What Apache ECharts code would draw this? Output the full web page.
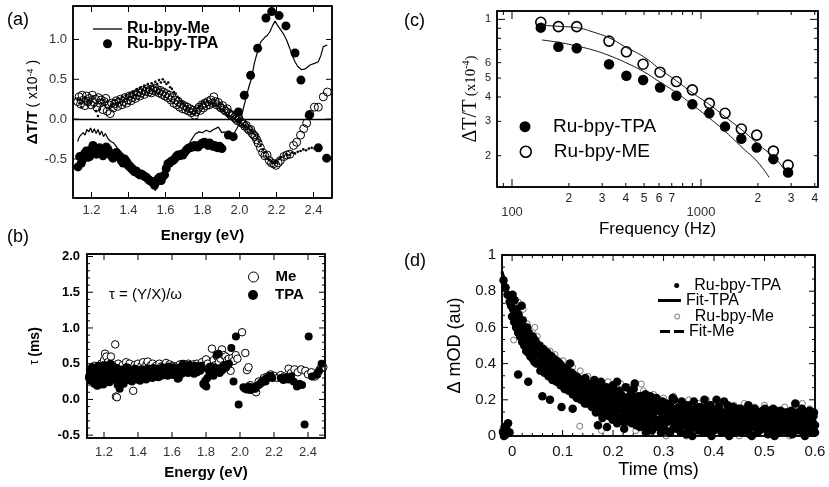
<!DOCTYPE html>
<html><head><meta charset="utf-8">
<script src="https://cdn.jsdelivr.net/npm/echarts@6/dist/echarts.min.js"></script>
<style>html,body{margin:0;padding:0;background:#fff}#c{width:829px;height:487px}</style>
</head><body><div id="c"></div>
<script>
// ---------- Panel (a): ΔT/T spectra ----------
const aXTicks = [1.2, 1.4, 1.6, 1.8, 2.0, 2.2, 2.4];
const aYTicks = [-0.5, 0, 0.5, 1.0];
const aMeLine = [[1.125,-0.28],[1.135,-0.22],[1.145,-0.24],[1.155,-0.17],[1.165,-0.2],[1.175,-0.13],[1.185,-0.16],[1.195,-0.11],[1.205,-0.17],[1.215,-0.12],[1.225,-0.18],[1.235,-0.13],[1.245,-0.2],[1.255,-0.15],[1.265,-0.22],[1.275,-0.18],[1.29,-0.25],[1.305,-0.28],[1.32,-0.3],[1.34,-0.36],[1.36,-0.41],[1.38,-0.46],[1.40,-0.5],[1.42,-0.55],[1.44,-0.6],[1.46,-0.64],[1.48,-0.68],[1.50,-0.72],[1.52,-0.78],[1.535,-0.83],[1.545,-0.9],[1.555,-0.84],[1.565,-0.86],[1.575,-0.8],[1.585,-0.78],[1.595,-0.7],[1.605,-0.64],[1.62,-0.58],[1.64,-0.53],[1.66,-0.48],[1.68,-0.44],[1.70,-0.4],[1.72,-0.35],[1.74,-0.26],[1.76,-0.19],[1.78,-0.16],[1.80,-0.17],[1.82,-0.14],[1.84,-0.16],[1.86,-0.13],[1.886,-0.1],[1.904,-0.17],[1.92,-0.16],[1.94,-0.2],[1.966,-0.2],[1.985,-0.12],[2.0,-0.05],[2.015,0.08],[2.03,0.22],[2.05,0.4],[2.066,0.52],[2.08,0.7],[2.1,0.87],[2.115,0.97],[2.138,1.03],[2.15,1.05],[2.165,1.1],[2.18,1.18],[2.192,1.23],[2.205,1.18],[2.22,1.13],[2.235,1.08],[2.255,0.99],[2.27,0.9],[2.285,0.8],[2.3,0.72],[2.315,0.66],[2.336,0.62],[2.355,0.63],[2.381,0.68],[2.405,0.7],[2.426,0.72],[2.44,0.8],[2.453,0.91],[2.475,0.93]];
const aTpa = [[1.127,-0.6],[1.136,-0.47],[1.145,-0.55],[1.154,-0.5],[1.163,-0.43],[1.172,-0.4],[1.181,-0.48],[1.19,-0.47],[1.199,-0.38],[1.208,-0.33],[1.217,-0.42],[1.226,-0.44],[1.235,-0.38],[1.244,-0.36],[1.253,-0.42],[1.262,-0.46],[1.271,-0.4],[1.28,-0.35],[1.289,-0.38],[1.298,-0.42],[1.307,-0.46],[1.316,-0.49],[1.325,-0.44],[1.334,-0.42],[1.343,-0.46],[1.352,-0.48],[1.361,-0.52],[1.37,-0.55],[1.379,-0.5],[1.388,-0.53],[1.397,-0.58],[1.406,-0.6],[1.415,-0.62],[1.424,-0.64],[1.433,-0.66],[1.442,-0.65],[1.451,-0.68],[1.46,-0.7],[1.469,-0.69],[1.478,-0.7],[1.487,-0.72],[1.496,-0.73],[1.505,-0.75],[1.514,-0.77],[1.523,-0.78],[1.532,-0.8],[1.541,-0.83],[1.55,-0.78],[1.559,-0.75],[1.568,-0.73],[1.577,-0.77],[1.586,-0.72],[1.595,-0.7],[1.604,-0.62],[1.613,-0.56],[1.622,-0.55],[1.631,-0.53],[1.64,-0.52],[1.649,-0.5],[1.658,-0.47],[1.667,-0.45],[1.676,-0.46],[1.685,-0.44],[1.694,-0.45],[1.703,-0.42],[1.712,-0.39],[1.721,-0.37],[1.73,-0.36],[1.739,-0.35],[1.748,-0.35],[1.757,-0.33],[1.766,-0.34],[1.775,-0.35],[1.784,-0.33],[1.793,-0.31],[1.802,-0.3],[1.811,-0.29],[1.82,-0.31],[1.829,-0.33],[1.838,-0.3],[1.847,-0.32],[1.856,-0.34],[1.865,-0.33],[1.874,-0.35],[1.883,-0.36],[1.892,-0.34],[1.905,-0.37],[1.94,-0.2],[1.966,-0.22],[1.994,0.09],[2.026,0.3],[2.06,0.55],[2.098,0.89],[2.143,1.27],[2.174,1.35],[2.214,1.3],[2.251,1.17],[2.3,0.83],[2.332,0.49],[2.377,0.05],[2.426,-0.36],[2.471,-0.49]];
const aMeOpen = [[1.125,0.22],[1.133,0.28],[1.141,0.19],[1.149,0.3],[1.157,0.24],[1.165,0.17],[1.173,0.29],[1.181,0.22],[1.189,0.26],[1.197,0.18],[1.205,0.3],[1.213,0.21],[1.221,0.25],[1.229,0.15],[1.237,0.27],[1.245,0.2],[1.253,0.24],[1.261,0.12],[1.269,0.22],[1.277,0.26],[1.285,0.1],[1.293,0.18],[1.301,0.07],[1.309,0.2],[1.317,0.14],[1.325,0.19],[1.333,0.23],[1.341,0.16],[1.349,0.21],[1.357,0.25],[1.365,0.18],[1.373,0.22],[1.381,0.27],[1.389,0.2],[1.397,0.24],[1.405,0.29],[1.413,0.23],[1.421,0.27],[1.429,0.31],[1.437,0.26],[1.445,0.3],[1.453,0.34],[1.461,0.29],[1.469,0.33],[1.477,0.36],[1.485,0.31],[1.493,0.35],[1.501,0.38],[1.509,0.34],[1.517,0.37],[1.525,0.33],[1.533,0.36],[1.541,0.39],[1.549,0.35],[1.557,0.37],[1.565,0.33],[1.573,0.36],[1.581,0.31],[1.589,0.34],[1.597,0.29],[1.605,0.32],[1.613,0.27],[1.621,0.3],[1.629,0.24],[1.637,0.27],[1.645,0.2],[1.653,0.24],[1.661,0.18],[1.669,0.22],[1.677,0.15],[1.685,0.19],[1.693,0.13],[1.701,0.17],[1.709,0.12],[1.717,0.15],[1.725,0.1],[1.733,0.13],[1.741,0.08],[1.749,0.11],[1.757,0.05],[1.765,0.09],[1.773,0.12],[1.781,0.15],[1.789,0.11],[1.797,0.18],[1.805,0.14],[1.813,0.2],[1.821,0.17],[1.829,0.22],[1.837,0.18],[1.845,0.24],[1.853,0.2],[1.861,0.28],[1.869,0.22],[1.877,0.18],[1.885,0.21],[1.893,0.16],[1.901,0.14],[1.909,0.17],[1.917,0.12],[1.925,0.1],[1.933,0.13],[1.941,0.08],[1.949,0.06],[1.957,0.04],[1.965,0.05],[1.973,0.02],[1.981,0.0],[1.989,-0.02],[1.997,0.01],[2.005,-0.03],[2.013,-0.05],[2.021,-0.06],[2.029,-0.09],[2.037,-0.08],[2.045,-0.12],[2.053,-0.14],[2.061,-0.13],[2.069,-0.18],[2.077,-0.2],[2.085,-0.22],[2.093,-0.26],[2.101,-0.3],[2.113,-0.36],[2.125,-0.42],[2.137,-0.46],[2.149,-0.45],[2.161,-0.52],[2.173,-0.55],[2.185,-0.56],[2.197,-0.58],[2.209,-0.55],[2.221,-0.52],[2.24,-0.47],[2.256,-0.45],[2.272,-0.44],[2.292,-0.33],[2.309,-0.29],[2.33,-0.2],[2.347,-0.12],[2.363,-0.05],[2.38,0.06],[2.405,0.15],[2.426,0.15],[2.453,0.28],[2.475,0.34]];
const aTpaDots = [[1.125,0.25],[1.135,0.2],[1.145,0.15],[1.155,0.22],[1.165,0.27],[1.175,0.18],[1.185,0.24],[1.195,0.2],[1.205,0.28],[1.215,0.16],[1.225,0.1],[1.235,0.04],[1.245,0.12],[1.255,0.2],[1.265,0.24],[1.275,0.18],[1.285,0.22],[1.295,0.14],[1.305,0.17],[1.315,0.2],[1.325,0.24],[1.335,0.2],[1.345,0.26],[1.355,0.22],[1.365,0.28],[1.375,0.24],[1.385,0.3],[1.395,0.26],[1.405,0.32],[1.415,0.28],[1.425,0.34],[1.435,0.3],[1.445,0.37],[1.455,0.34],[1.465,0.4],[1.475,0.36],[1.485,0.42],[1.495,0.38],[1.505,0.44],[1.515,0.4],[1.525,0.45],[1.535,0.42],[1.545,0.47],[1.555,0.44],[1.565,0.49],[1.575,0.46],[1.585,0.5],[1.595,0.47],[1.605,0.44],[1.615,0.46],[1.625,0.4],[1.635,0.38],[1.645,0.34],[1.655,0.32],[1.665,0.28],[1.675,0.26],[1.685,0.22],[1.695,0.2],[1.705,0.17],[1.715,0.14],[1.725,0.12],[1.735,0.09],[1.745,0.07],[1.755,0.06],[1.765,0.1],[1.775,0.14],[1.785,0.17],[1.795,0.2],[1.805,0.22],[1.815,0.19],[1.825,0.23],[1.835,0.2],[1.845,0.21],[1.855,0.18],[1.865,0.2],[1.875,0.17],[1.885,0.16],[1.895,0.13],[1.905,0.12],[1.915,0.1],[1.925,0.07],[1.935,0.05],[1.945,0.04],[1.955,0.02],[1.965,0.03],[1.975,0.0],[1.985,-0.02],[1.995,-0.03],[2.005,-0.05],[2.015,-0.07],[2.025,-0.08],[2.035,-0.1],[2.045,-0.11],[2.055,-0.13],[2.065,-0.15],[2.075,-0.18],[2.085,-0.2],[2.095,-0.24],[2.105,-0.28],[2.115,-0.33],[2.125,-0.38],[2.135,-0.42],[2.145,-0.47],[2.155,-0.5],[2.165,-0.52],[2.175,-0.54],[2.185,-0.55],[2.195,-0.55],[2.205,-0.53],[2.215,-0.5],[2.225,-0.48],[2.24,-0.46],[2.255,-0.44],[2.27,-0.45],[2.285,-0.42],[2.3,-0.43],[2.315,-0.41],[2.33,-0.4],[2.345,-0.38],[2.36,-0.39],[2.375,-0.37],[2.39,-0.36],[2.405,-0.37],[2.42,-0.38],[2.435,-0.37]];

// ---------- Panel (b): tau ----------
const bXTicks = [1.2, 1.4, 1.6, 1.8, 2.0, 2.2, 2.4];
const bYTicks = [-0.5, 0, 0.5, 1.0, 1.5, 2.0];
const bYMinor = [-0.4,-0.3,-0.2,-0.1,0.1,0.2,0.3,0.4,0.6,0.7,0.8,0.9,1.1,1.2,1.3,1.4,1.6,1.7,1.8,1.9];
const bMe = [[1.112,0.3],[1.12,0.42],[1.128,0.36],[1.136,0.25],[1.144,0.47],[1.152,0.4],[1.16,0.33],[1.168,0.2],[1.176,0.45],[1.184,0.5],[1.192,0.38],[1.2,0.55],[1.206,0.64],[1.214,0.6],[1.222,0.52],[1.23,0.45],[1.241,0.6],[1.25,0.48],[1.258,0.42],[1.266,0.77],[1.27,0.04],[1.276,0.03],[1.284,0.5],[1.292,0.44],[1.3,0.38],[1.31,0.48],[1.32,0.42],[1.33,0.52],[1.34,0.46],[1.35,0.5],[1.36,0.43],[1.372,0.12],[1.38,0.48],[1.39,0.45],[1.4,0.5],[1.41,0.42],[1.42,0.47],[1.43,0.52],[1.44,0.45],[1.45,0.49],[1.457,0.53],[1.466,0.44],[1.476,0.48],[1.486,0.5],[1.496,0.42],[1.506,0.47],[1.516,0.44],[1.526,0.5],[1.536,0.46],[1.546,0.42],[1.556,0.48],[1.565,0.51],[1.576,0.45],[1.586,0.49],[1.596,0.43],[1.606,0.47],[1.616,0.4],[1.626,0.46],[1.636,0.42],[1.646,0.49],[1.656,0.44],[1.666,0.4],[1.676,0.47],[1.686,0.43],[1.696,0.5],[1.706,0.46],[1.716,0.42],[1.726,0.49],[1.736,0.45],[1.746,0.5],[1.756,0.44],[1.766,0.48],[1.776,0.52],[1.786,0.47],[1.8,0.56],[1.81,0.5],[1.82,0.45],[1.835,0.71],[1.845,0.55],[1.855,0.48],[1.865,0.6],[1.875,0.52],[1.885,0.57],[1.894,0.7],[1.905,0.62],[1.915,0.6],[1.925,0.55],[1.935,0.57],[1.945,0.4],[1.955,0.58],[1.965,0.54],[1.975,0.62],[1.985,0.57],[2.012,0.94],[2.031,0.65],[2.041,0.41],[2.05,0.45],[2.06,0.2],[2.08,0.13],[2.095,0.1],[2.11,0.25],[2.125,0.24],[2.14,0.3],[2.16,0.32],[2.18,0.35],[2.2,0.33],[2.22,0.3],[2.24,0.34],[2.26,0.32],[2.286,0.43],[2.3,0.37],[2.32,0.42],[2.34,0.38],[2.36,0.42],[2.384,0.4],[2.4,0.35],[2.42,0.38],[2.44,0.32],[2.455,0.35],[2.472,0.43],[2.49,0.45]];
const bTpa = [[1.112,0.32],[1.118,0.41],[1.124,0.26],[1.13,0.45],[1.136,0.35],[1.142,0.22],[1.148,0.4],[1.154,0.3],[1.16,0.19],[1.166,0.47],[1.172,0.36],[1.178,0.27],[1.184,0.43],[1.19,0.33],[1.196,0.21],[1.202,0.48],[1.208,0.38],[1.214,0.29],[1.22,0.44],[1.226,0.35],[1.232,0.24],[1.238,0.5],[1.244,0.4],[1.25,0.3],[1.256,0.46],[1.262,0.37],[1.268,0.27],[1.274,0.44],[1.28,0.2],[1.286,0.34],[1.292,0.15],[1.298,0.25],[1.304,0.42],[1.31,0.32],[1.316,0.22],[1.322,0.4],[1.328,0.3],[1.334,0.45],[1.34,0.36],[1.346,0.27],[1.352,0.41],[1.358,0.33],[1.364,0.25],[1.37,0.39],[1.376,0.31],[1.382,0.43],[1.388,0.35],[1.394,0.28],[1.4,0.4],[1.406,0.33],[1.412,0.26],[1.418,0.42],[1.424,0.36],[1.43,0.3],[1.436,0.41],[1.442,0.34],[1.448,0.28],[1.454,0.43],[1.46,0.37],[1.466,0.31],[1.472,0.42],[1.478,0.35],[1.484,0.3],[1.49,0.44],[1.496,0.38],[1.502,0.32],[1.508,0.41],[1.514,0.36],[1.52,0.31],[1.526,0.43],[1.532,0.38],[1.538,0.33],[1.544,0.45],[1.55,0.39],[1.556,0.34],[1.562,0.44],[1.568,0.38],[1.574,0.33],[1.58,0.46],[1.586,0.4],[1.592,0.35],[1.598,0.45],[1.604,0.39],[1.61,0.34],[1.616,0.44],[1.622,0.4],[1.628,0.35],[1.634,0.29],[1.64,0.3],[1.646,0.45],[1.652,0.41],[1.658,0.36],[1.664,0.5],[1.67,0.44],[1.676,0.39],[1.682,0.47],[1.688,0.42],[1.694,0.37],[1.7,0.48],[1.706,0.43],[1.712,0.38],[1.718,0.46],[1.724,0.41],[1.73,0.36],[1.736,0.47],[1.742,0.42],[1.748,0.38],[1.754,0.46],[1.76,0.43],[1.766,0.4],[1.772,0.47],[1.778,0.44],[1.784,0.22],[1.79,0.2],[1.796,0.26],[1.802,0.18],[1.808,0.3],[1.814,0.42],[1.82,0.38],[1.826,0.46],[1.832,0.35],[1.838,0.4],[1.844,0.33],[1.85,0.45],[1.856,0.38],[1.862,0.62],[1.868,0.42],[1.874,0.64],[1.88,0.37],[1.886,0.44],[1.892,0.4],[1.898,0.46],[1.904,0.43],[1.91,0.48],[1.92,0.45],[1.935,0.5],[1.949,0.72],[1.962,0.25],[1.976,0.88],[1.992,-0.07],[2.02,0.17],[2.03,0.15],[2.04,0.14],[2.05,0.18],[2.06,0.13],[2.07,0.17],[2.08,0.15],[2.09,0.15],[2.1,0.19],[2.11,0.2],[2.12,0.22],[2.13,0.24],[2.14,0.27],[2.15,0.25],[2.16,0.3],[2.17,0.31],[2.18,0.33],[2.19,0.3],[2.24,0.3],[2.255,0.27],[2.27,0.31],[2.285,0.28],[2.3,0.32],[2.315,0.25],[2.335,0.18],[2.35,0.22],[2.365,0.2],[2.38,-0.35],[2.404,0.88],[2.424,0.32],[2.45,0.35],[2.465,0.4],[2.48,0.5]];

// ---------- Panel (c): frequency dependence (log-log) ----------
const cXMajor = [100, 1000];
const cXMinorTicks = [90, 200, 300, 400, 500, 600, 700, 800, 900, 2000, 3000, 4000];
const cXMinorLabels = [200, 300, 400, 500, 600, 700, 2000, 3000, 4000];
const cYMajor = [10];
const cYMinorTicks = [2, 3, 4, 5, 6, 7, 8, 9];
const cYMinorLabels = [2, 3, 4, 5, 6];
const cFreq = [142, 176, 220, 326, 403, 494, 607, 741, 900, 1107, 1340, 1635, 1971, 2415, 2890];
const cTpa = [9.07, 7.24, 7.11, 5.89, 5.14, 4.89, 4.47, 4.06, 3.67, 3.30, 2.82, 2.44, 2.20, 1.92, 1.64];
const cMe  = [9.66, 9.18, 9.18, 7.74, 6.82, 5.89, 5.36, 4.80, 4.35, 3.71, 3.30, 2.74, 2.55, 2.11, 1.79];
const cFitMe = [[135,9.36],[180,9.2],[220,9.07],[270,8.6],[330,8.0],[400,7.2],[496,6.44],[600,5.6],[743,4.83],[900,4.2],[1116,3.64],[1350,3.15],[1670,2.68],[2050,2.25],[2520,1.9],[2840,1.62]];
const cFitTpa = [[144,7.84],[180,7.6],[220,7.3],[270,6.95],[330,6.5],[400,6.0],[496,5.4],[600,4.8],[743,4.2],[900,3.65],[1116,3.1],[1350,2.65],[1670,2.18],[2000,1.85],[2290,1.55]];

// ---------- Panel (d): transient absorption decay ----------
const dXMajor = [0, 0.1, 0.2, 0.3, 0.4, 0.5, 0.6];
const dXMinor = [0.02,0.04,0.06,0.08,0.12,0.14,0.16,0.18,0.22,0.24,0.26,0.28,0.32,0.34,0.36,0.38,0.42,0.44,0.46,0.48,0.52,0.54,0.56,0.58];
const dYMajor = [0, 0.2, 0.4, 0.6, 0.8, 1];
const dYMinor = [0.067,0.133,0.267,0.333,0.467,0.533,0.667,0.733,0.867,0.933];
const dTpa = [[-0.018,0.02],[-0.015,0.05],[-0.012,0.01],[-0.01,0.03],[-0.016,0.0],[-0.008,0.07],[-0.005,0.02],[-0.013,0.04],
[-0.017,0.86],[-0.013,0.82],[-0.009,0.78],[-0.005,0.74],[-0.002,0.72],[0.0,0.66],[0.002,0.7],[0.004,0.63],[0.006,0.68],[0.008,0.6],[0.01,0.66],[0.012,0.57],[0.014,0.63],[0.016,0.55],[0.018,0.61],[0.02,0.52],[0.022,0.58],[0.024,0.5],[0.026,0.56],[0.028,0.47],[0.03,0.55],[0.032,0.46],[0.034,0.52],[0.036,0.44],[0.038,0.51],[0.04,0.43],[0.042,0.5],[0.044,0.41],[0.046,0.48],[0.048,0.4],[0.05,0.47],[0.012,0.34],[0.032,0.3],[0.019,0.72],[0.03,0.6],
[0.052,0.4],[0.054,0.5],[0.056,0.36],[0.058,0.45],[0.06,0.39],[0.062,0.48],[0.064,0.35],[0.066,0.43],[0.068,0.38],[0.07,0.46],[0.072,0.33],[0.074,0.41],[0.076,0.36],[0.078,0.44],[0.08,0.31],[0.082,0.39],[0.084,0.34],[0.086,0.42],[0.088,0.3],[0.09,0.37],[0.092,0.32],[0.094,0.4],[0.096,0.28],[0.098,0.36],[0.1,0.31],[0.102,0.38],[0.104,0.26],[0.106,0.34],[0.108,0.29],[0.11,0.36],[0.112,0.25],[0.114,0.32],[0.116,0.27],[0.118,0.35],[0.12,0.23],[0.122,0.3],[0.124,0.26],[0.126,0.33],[0.128,0.21],[0.13,0.29],[0.132,0.24],[0.134,0.31],[0.136,0.2],[0.138,0.27],[0.14,0.22],[0.142,0.3],[0.144,0.18],[0.146,0.26],[0.148,0.21],[0.15,0.28],[0.06,0.22],[0.075,0.2],[0.098,0.16],[0.115,0.4],[0.085,0.36],[0.12,0.15],
[0.152,0.2],[0.155,0.29],[0.158,0.16],[0.16,0.24],[0.163,0.31],[0.166,0.13],[0.168,0.21],[0.171,0.27],[0.174,0.17],[0.176,0.3],[0.179,0.1],[0.181,0.23],[0.184,0.15],[0.187,0.27],[0.19,0.19],[0.192,0.11],[0.195,0.24],[0.198,0.16],[0.2,0.28],[0.203,0.12],[0.206,0.21],[0.208,0.07],[0.211,0.25],[0.214,0.17],[0.217,0.1],[0.219,0.22],[0.222,0.14],[0.225,0.27],[0.228,0.18],[0.23,0.08],[0.233,0.22],[0.236,0.13],[0.239,0.19],[0.241,0.26],[0.244,0.1],[0.247,0.16],[0.25,0.22],[0.253,0.05],[0.255,0.14],[0.258,0.19],[0.261,0.11],[0.264,0.23],[0.266,0.07],[0.269,0.16],[0.272,0.2],[0.275,0.12],[0.277,0.03],[0.28,0.17],[0.283,0.09],[0.286,0.21],[0.289,0.14],[0.291,0.05],[0.294,0.18],[0.297,0.1],[0.3,0.15],[0.243,0.29],[0.222,0.04],[0.265,0.02],[0.188,0.05],[0.208,0.3],[0.235,0.25],[0.17,0.06],
[0.303,0.07],[0.306,0.18],[0.309,0.11],[0.312,0.02],[0.315,0.15],[0.318,0.08],[0.321,0.2],[0.324,0.12],[0.327,0.04],[0.33,0.16],[0.333,0.09],[0.336,0.19],[0.339,0.06],[0.342,0.13],[0.345,0.01],[0.348,0.17],[0.351,0.1],[0.354,0.04],[0.357,0.14],[0.36,0.19],[0.363,0.08],[0.366,0.12],[0.369,0.03],[0.372,0.16],[0.375,0.1],[0.378,0.06],[0.381,0.2],[0.384,0.13],[0.387,0.02],[0.39,0.11],[0.393,0.17],[0.396,0.07],[0.399,0.14],[0.402,0.04],[0.405,0.2],[0.408,0.1],[0.411,0.15],[0.414,0.06],[0.417,0.12],[0.42,0.19],[0.423,0.03],[0.426,0.09],[0.429,0.14],[0.432,0.06],[0.435,0.11],[0.438,0.16],[0.441,0.02],[0.444,0.08],[0.447,0.13],[0.45,0.05],[0.357,0.0],[0.318,0.21],[0.395,0.0],[0.43,0.0],
[0.453,0.15],[0.456,0.09],[0.459,0.03],[0.462,0.12],[0.465,0.07],[0.468,0.17],[0.471,0.01],[0.474,0.1],[0.477,0.14],[0.48,0.05],[0.483,0.11],[0.486,0.02],[0.489,0.08],[0.492,0.13],[0.495,0.04],[0.498,0.1],[0.501,0.15],[0.504,0.06],[0.507,0.01],[0.51,0.12],[0.513,0.08],[0.516,0.03],[0.519,0.11],[0.522,0.14],[0.525,0.06],[0.528,0.09],[0.531,0.02],[0.534,0.12],[0.537,0.07],[0.54,0.04],[0.543,0.1],[0.546,0.13],[0.549,0.05],[0.552,0.08],[0.555,0.01],[0.558,0.11],[0.561,0.18],[0.564,0.06],[0.567,0.09],[0.57,0.03],[0.573,0.12],[0.576,0.07],[0.579,0.1],[0.582,0.04],[0.585,0.13],[0.588,0.06],[0.591,0.09],[0.594,0.02],[0.597,0.11],[0.6,0.06],[0.475,0.0],[0.52,0.0],[0.58,0.0],[0.5,0.1],[0.46,0.1]];
const dTpaB = [[0.001,0.78],[0.005,0.75],[0.009,0.7],[0.013,0.67],[0.017,0.62],[0.021,0.64],[0.025,0.6],[0.029,0.58],[0.033,0.57],[0.037,0.54],[0.039,0.48],[0.043,0.45],[0.045,0.53],[0.049,0.5],
[0.041,0.55],[0.047,0.52],[0.053,0.45],[0.057,0.41],[0.061,0.44],[0.065,0.47],[0.069,0.42],[0.073,0.37],[0.077,0.4],[0.081,0.43],[0.083,0.35],[0.087,0.38],[0.091,0.41],[0.093,0.34],[0.097,0.39],[0.099,0.33],[0.103,0.35],[0.107,0.31],[0.109,0.37],[0.113,0.29],[0.117,0.31],[0.119,0.27],[0.121,0.34],[0.125,0.29],[0.127,0.24],[0.131,0.32],[0.133,0.27],[0.137,0.23],[0.139,0.3],[0.141,0.26],[0.143,0.21],[0.145,0.32],[0.147,0.24],[0.149,0.18],
[0.151,0.26],[0.154,0.22],[0.157,0.18],[0.159,0.28],[0.162,0.2],[0.164,0.24],[0.167,0.17],[0.169,0.25],[0.172,0.2],[0.175,0.13],[0.177,0.22],[0.18,0.26],[0.182,0.18],[0.185,0.21],[0.186,0.13],[0.189,0.23],[0.191,0.15],[0.194,0.19],[0.196,0.26],[0.199,0.09],[0.201,0.2],[0.204,0.16],[0.205,0.24],[0.209,0.14],[0.21,0.2],[0.213,0.1],[0.215,0.23],[0.218,0.16],[0.22,0.08],[0.223,0.19],[0.226,0.12],[0.227,0.21],[0.231,0.15],[0.232,0.1],[0.234,0.18],[0.237,0.07],[0.238,0.22],[0.242,0.13],[0.245,0.19],[0.246,0.06],[0.249,0.12],[0.251,0.18],[0.254,0.09],[0.256,0.22],[0.259,0.15],[0.26,0.06],[0.262,0.17],[0.263,0.13],[0.267,0.19],[0.268,0.1],[0.27,0.04],[0.273,0.14],[0.274,0.22],[0.278,0.08],[0.279,0.12],[0.281,0.2],[0.284,0.05],[0.285,0.14],[0.288,0.18],[0.29,0.09],[0.292,0.16],[0.295,0.02],[0.296,0.13],[0.298,0.19],[0.299,0.07],
[0.301,0.12],[0.304,0.03],[0.307,0.14],[0.31,0.08],[0.313,0.17],[0.316,0.11],[0.319,0.04],[0.322,0.09],[0.325,0.15],[0.328,0.07],[0.331,0.12],[0.334,0.02],[0.337,0.1],[0.34,0.15],[0.343,0.07],[0.346,0.12],[0.349,0.04],[0.352,0.15],[0.355,0.08],[0.358,0.11],[0.361,0.05],[0.364,0.15],[0.367,0.09],[0.37,0.12],[0.373,0.06],[0.376,0.15],[0.379,0.02],[0.382,0.09],[0.385,0.16],[0.388,0.08],[0.391,0.05],[0.394,0.13],[0.397,0.1],[0.4,0.03],[0.403,0.12],[0.406,0.07],[0.409,0.16],[0.412,0.11],[0.415,0.02],[0.418,0.08],[0.421,0.13],[0.424,0.06],[0.427,0.17],[0.43,0.1],[0.433,0.03],[0.436,0.08],[0.439,0.13],[0.442,0.1],[0.445,0.04],[0.448,0.15],[0.451,0.09],[0.454,0.02],[0.457,0.12],[0.46,0.06],[0.463,0.14],[0.466,0.03],[0.469,0.09],[0.472,0.13],[0.475,0.06],[0.478,0.1],[0.481,0.15],[0.484,0.07],[0.487,0.12],[0.49,0.03],[0.493,0.09],[0.496,0.14],[0.499,0.05],[0.502,0.11],[0.505,0.08],[0.508,0.14],[0.511,0.04],[0.514,0.1],[0.517,0.15],[0.52,0.07],[0.523,0.03],[0.526,0.12],[0.529,0.08],[0.532,0.14],[0.535,0.04],[0.538,0.1],[0.541,0.13],[0.544,0.07],[0.547,0.02],[0.55,0.11],[0.553,0.14],[0.556,0.06],[0.559,0.09],[0.562,0.03],[0.565,0.13],[0.568,0.1],[0.571,0.07],[0.574,0.15],[0.577,0.02],[0.58,0.12],[0.583,0.08],[0.586,0.1],[0.589,0.14],[0.592,0.04],[0.595,0.08],[0.598,0.13],[0.6,0.02]];
const dMe = [[-0.02,0.03],[-0.012,0.06],[0.003,0.53],[0.006,0.68],[0.012,0.74],[0.019,0.64],[0.022,0.7],[0.03,0.62],[0.04,0.58],[0.045,0.6],[0.05,0.55],[0.058,0.5],[0.068,0.416],[0.075,0.47],[0.085,0.45],[0.101,0.416],[0.11,0.4],[0.12,0.38],[0.134,0.054],[0.135,0.36],[0.15,0.33],[0.165,0.31],[0.177,0.03],[0.19,0.3],[0.2,0.28],[0.215,0.29],[0.23,0.27],[0.245,0.03],[0.256,0.287],[0.26,0.25],[0.275,0.04],[0.28,0.23],[0.3,0.21],[0.305,0.0],[0.32,0.22],[0.335,0.19],[0.35,0.2],[0.37,0.18],[0.385,0.2],[0.4,0.18],[0.42,0.19],[0.44,0.17],[0.46,0.18],[0.48,0.16],[0.5,0.17],[0.52,0.15],[0.54,0.16],[0.56,0.17],[0.575,0.18],[0.59,0.15],[0.345,0.0],[0.45,0.0],[0.55,0.0]];
const dFitTpa = [[-0.02,0.9],[-0.01,0.8],[0.0,0.71],[0.01,0.63],[0.02,0.57],[0.03,0.52],[0.04,0.48],[0.05,0.44],[0.065,0.4],[0.08,0.37],[0.1,0.33],[0.12,0.29],[0.15,0.245],[0.2,0.19],[0.25,0.155],[0.3,0.125],[0.35,0.105],[0.4,0.092],[0.45,0.083],[0.5,0.077],[0.55,0.072],[0.6,0.068]];
const dFitMe = [[-0.02,0.91],[-0.01,0.81],[0.0,0.72],[0.01,0.64],[0.02,0.58],[0.03,0.53],[0.04,0.49],[0.05,0.45],[0.065,0.41],[0.08,0.38],[0.1,0.34],[0.12,0.3],[0.15,0.25],[0.2,0.195],[0.25,0.16],[0.3,0.13],[0.35,0.11],[0.4,0.097],[0.45,0.088],[0.5,0.082],[0.55,0.077],[0.6,0.073]];

// ---------- helpers ----------
const FF = "'Liberation Sans', Arial, Helvetica, sans-serif";
const SERIF = "'Liberation Serif', 'Times New Roman', serif";
const K = '#000';
const fix1 = v => Number(v).toFixed(1);
const lead = v => String(Math.round(v / Math.pow(10, Math.floor(Math.log10(v) + 1e-9))));

// grid boxes (left, top, width, height) and axis ranges
const boxA = [73, 6, 259, 192], boxB = [87, 254, 238, 184], boxC = [497, 11, 321, 176], boxD = [502, 255, 313, 181];
const aX = [1.1, 2.5], aY = [-0.99, 1.42];
const bX = [1.1, 2.5], bY = [-0.54, 2.035];
const cX = [83.3, 4160], cY = [1.382, 11.04];
const dX = [-0.02, 0.6], dY = [0, 1];

function axis(o) {
  const a = {
    type: o.type || 'value', gridIndex: o.grid, position: o.pos, min: o.min, max: o.max, silent: true,
    axisLine: { show: false, onZero: false },
    splitLine: { show: false }, splitArea: { show: false }, minorTick: { show: false },
    axisTick: { show: false },
    axisLabel: o.labels ? { show: true, customValues: o.labels, margin: o.margin, color: o.color || '#111', fontFamily: o.ff || FF, fontSize: o.fs, fontWeight: o.fw || 'normal', formatter: o.fmt } : { show: false }
  };
  if (o.type === 'log') a.logBase = 10;
  if (o.name) { a.name = o.name; a.nameLocation = 'middle'; a.nameGap = o.nameGap; a.nameTextStyle = o.nameStyle; }
  return a;
}
function grid(b) {
  return { left: b[0], top: b[1], width: b[2], height: b[3], show: true, borderColor: K, borderWidth: 1.5, backgroundColor: 'transparent', containLabel: false, outerBoundsMode: 'none' };
}
// plot frame: a closed polyline along the axis extents
function frameSeries(xi, yi, xr, yr) {
  return { name: 'frame' + xi, type: 'line', xAxisIndex: xi, yAxisIndex: yi, silent: true, clip: false, z: 5,
    symbol: 'none', showSymbol: false, animation: false, emphasis: { disabled: true },
    lineStyle: { color: K, width: 1.5, cap: 'square', join: 'miter' },
    data: [[xr[0], yr[0]], [xr[1], yr[0]], [xr[1], yr[1]], [xr[0], yr[1]], [xr[0], yr[0]]] };
}
// inward tick marks on all four sides: thin filled rect symbols placed at the tick values
function tickSeries(xi, yi, xr, yr, xSets, ySets) {
  const items = [];
  xSets.forEach(([list, len]) => list.forEach(v => {
    items.push({ value: [v, yr[0]], symbolSize: [1, len], symbolOffset: [0, -len / 2] });
    items.push({ value: [v, yr[1]], symbolSize: [1, len], symbolOffset: [0, len / 2] });
  }));
  ySets.forEach(([list, len]) => list.forEach(v => {
    items.push({ value: [xr[0], v], symbolSize: [len, 1], symbolOffset: [len / 2, 0] });
    items.push({ value: [xr[1], v], symbolSize: [len, 1], symbolOffset: [-len / 2, 0] });
  }));
  return { name: 'ticks' + xi, type: 'scatter', xAxisIndex: xi, yAxisIndex: yi, silent: true, clip: false, z: 5,
    symbol: 'rect', animation: false, emphasis: { disabled: true },
    itemStyle: { color: K, borderWidth: 0, opacity: 1 }, data: items };
}
function lg(label, left, top, w, h, icon, style, font) {
  return { show: true, selectedMode: false, left, top, padding: 0, itemWidth: w, itemHeight: h, itemGap: 0, orient: 'vertical',
    data: [{ name: label.series, icon, itemStyle: style }], formatter: () => label.text,
    textStyle: Object.assign({ color: K, fontFamily: FF }, font) };
}

const xAxis = [
  axis({ grid: 0, pos: 'bottom', min: aX[0], max: aX[1], labels: aXTicks, margin: 6, fs: 13, color: '#333', fmt: fix1,
         name: 'Energy (eV)', nameGap: 30, nameStyle: { fontFamily: FF, fontSize: 15, fontWeight: 'bold', color: K } }),
  axis({ grid: 1, pos: 'bottom', min: bX[0], max: bX[1], labels: bXTicks, margin: 8, fs: 13, color: '#333', fmt: fix1,
         name: 'Energy (eV)', nameGap: 27, nameStyle: { fontFamily: FF, fontSize: 15, fontWeight: 'bold', color: K } }),
  axis({ type: 'log', grid: 2, pos: 'bottom', min: cX[0], max: cX[1], labels: cXMajor, margin: 19, fs: 13, color: '#333', fmt: v => String(Math.round(v)),
         name: 'Frequency (Hz)', nameGap: 34, nameStyle: { fontFamily: FF, fontSize: 17, color: K } }),
  axis({ type: 'log', grid: 2, pos: 'bottom', min: cX[0], max: cX[1], labels: cXMinorLabels, margin: 6, fs: 12, color: '#222', fmt: lead }),
  axis({ grid: 3, pos: 'bottom', min: dX[0], max: dX[1], labels: dXMajor, margin: 8, fs: 15, color: '#111', fmt: v => String(v),
         name: 'Time (ms)', nameGap: 25, nameStyle: { fontFamily: FF, fontSize: 18, color: K } })
];
const yAxis = [
  axis({ grid: 0, pos: 'left', min: aY[0], max: aY[1], labels: aYTicks, margin: 6, fs: 13, color: '#333', fmt: fix1,
         name: '{b|ΔT/T} {r|( x10}{s|-4}{r| )}', nameGap: 16,
         nameStyle: { color: K, rich: { b: { fontFamily: FF, fontSize: 15, fontWeight: 'bold', color: K }, r: { fontFamily: FF, fontSize: 14, color: K }, s: { fontFamily: FF, fontSize: 9, color: K, verticalAlign: 'top' } } } }),
  axis({ grid: 1, pos: 'left', min: bY[0], max: bY[1], labels: bYTicks, margin: 7, fs: 13, fw: 'bold', color: K, fmt: fix1,
         name: '{t|τ} {m|(ms)}', nameGap: 45,
         nameStyle: { color: K, rich: { t: { fontFamily: FF, fontSize: 12, color: K }, m: { fontFamily: FF, fontSize: 14, fontWeight: 'bold', color: K } } } }),
  axis({ type: 'log', grid: 2, pos: 'left', min: cY[0], max: cY[1], labels: cYMajor, margin: 6, fs: 11, color: '#222', fmt: lead,
         name: '{a|ΔT/T} {b|(x10}{s|-4}{b|)}', nameGap: 16,
         nameStyle: { color: K, rich: { a: { fontFamily: SERIF, fontSize: 20, color: K }, b: { fontFamily: SERIF, fontSize: 15, color: K }, s: { fontFamily: SERIF, fontSize: 10, color: K, verticalAlign: 'top' } } } }),
  axis({ type: 'log', grid: 2, pos: 'left', min: cY[0], max: cY[1], labels: cYMinorLabels, margin: 6, fs: 11, color: '#222', fmt: lead }),
  axis({ grid: 3, pos: 'left', min: dY[0], max: dY[1], labels: dYMajor, margin: 6, fs: 15, color: '#111', fmt: v => String(v),
         name: 'Δ mOD (au)', nameGap: 38, nameStyle: { fontFamily: FF, fontSize: 18, color: K } })
];

const filled = () => ({ color: K, borderWidth: 0, opacity: 1 });
const series = [
  // (a)
  { name: 'aMeOpen', type: 'scatter', xAxisIndex: 0, yAxisIndex: 0, data: aMeOpen, symbol: 'circle', symbolSize: 8,
    itemStyle: { color: 'rgba(255,255,255,0)', borderColor: K, borderWidth: 1, opacity: 1 } },
  { name: 'aTpaDots', type: 'scatter', xAxisIndex: 0, yAxisIndex: 0, data: aTpaDots, symbol: 'circle', symbolSize: 2.6, itemStyle: filled() },
  { name: 'aMe', type: 'line', xAxisIndex: 0, yAxisIndex: 0, data: aMeLine, symbol: 'none', showSymbol: false, color: K,
    lineStyle: { color: K, width: 1.2 },
    markLine: { silent: true, symbol: ['none', 'none'], animation: false, label: { show: false }, emphasis: { disabled: true },
      lineStyle: { color: K, width: 1.3, type: 'solid', opacity: 1 }, data: [{ yAxis: 0 }] } },
  { name: 'aTpa', type: 'scatter', xAxisIndex: 0, yAxisIndex: 0, data: aTpa, symbol: 'circle', symbolSize: 9, itemStyle: filled() },
  // (b)
  { name: 'bMe', type: 'scatter', xAxisIndex: 1, yAxisIndex: 1, data: bMe, symbol: 'circle', symbolSize: 7.5,
    itemStyle: { color: '#fff', borderColor: K, borderWidth: 1, opacity: 1 } },
  { name: 'bTpa', type: 'scatter', xAxisIndex: 1, yAxisIndex: 1, data: bTpa, symbol: 'circle', symbolSize: 8, itemStyle: filled() },
  // (c)
  { name: 'cFitMe', type: 'line', xAxisIndex: 2, yAxisIndex: 2, data: cFitMe, symbol: 'none', smooth: true, color: K, lineStyle: { color: '#111', width: 1 } },
  { name: 'cFitTpa', type: 'line', xAxisIndex: 2, yAxisIndex: 2, data: cFitTpa, symbol: 'none', smooth: true, color: K, lineStyle: { color: '#111', width: 1 } },
  { name: 'cMe', type: 'scatter', xAxisIndex: 2, yAxisIndex: 2, data: cFreq.map((f, i) => [f, cMe[i]]), symbol: 'circle', symbolSize: 10,
    itemStyle: { color: '#fff', borderColor: K, borderWidth: 1.6, opacity: 1 } },
  { name: 'cTpa', type: 'scatter', xAxisIndex: 2, yAxisIndex: 2, data: cFreq.map((f, i) => [f, cTpa[i]]), symbol: 'circle', symbolSize: 10.5, itemStyle: filled() },
  // (d)
  { name: 'dFitTpa', type: 'line', xAxisIndex: 4, yAxisIndex: 4, data: dFitTpa, symbol: 'none', smooth: true, color: K, lineStyle: { color: K, width: 3 } },
  { name: 'dFitMe', type: 'line', xAxisIndex: 4, yAxisIndex: 4, data: dFitMe, symbol: 'none', smooth: true, color: K, lineStyle: { color: K, width: 3, type: [8, 4] } },
  { name: 'dMe', type: 'scatter', xAxisIndex: 4, yAxisIndex: 4, data: dMe, symbol: 'circle', symbolSize: 6,
    itemStyle: { color: '#fff', borderColor: '#777', borderWidth: 1, opacity: 1 } },
  { name: 'dTpa', type: 'scatter', xAxisIndex: 4, yAxisIndex: 4, data: dTpa.concat(dTpaB), symbol: 'circle', symbolSize: 8.5, itemStyle: filled() },
  // frames and ticks
  frameSeries(0, 0, aX, aY), tickSeries(0, 0, aX, aY, [[aXTicks, 6]], [[aYTicks, 6]]),
  frameSeries(1, 1, bX, bY), tickSeries(1, 1, bX, bY, [[bXTicks, 6]], [[bYTicks, 6], [bYMinor, 3]]),
  frameSeries(2, 2, cX, cY), tickSeries(2, 2, cX, cY, [[cXMajor, 8], [cXMinorTicks, 4]], [[cYMajor, 8], [cYMinorTicks, 4]]),
  frameSeries(4, 4, dX, dY), tickSeries(4, 4, dX, dY, [[dXMajor, 6], [dXMinor, 3]], [[dYMajor, 6], [dYMinor, 3]])
];

const legend = [
  lg({ series: 'aMe', text: 'Ru-bpy-Me' }, 93, 21, 29, 1.3, 'path://M0 0H29V1.3H0Z', { color: K }, { fontSize: 16, fontWeight: 'bold', lineHeight: 15 }),
  lg({ series: 'aTpa', text: 'Ru-bpy-TPA' }, 103, 35.8, 29, 9, 'circle', { color: K }, { fontSize: 16, fontWeight: 'bold', lineHeight: 15 }),
  lg({ series: 'bMe', text: 'Me' }, 248, 269.5, 34, 10, 'circle', { color: '#fff', borderColor: K, borderWidth: 1 }, { fontSize: 15, fontWeight: 'bold', lineHeight: 15 }),
  lg({ series: 'bTpa', text: 'TPA' }, 248, 287.5, 34, 10, 'circle', { color: K }, { fontSize: 15, fontWeight: 'bold', lineHeight: 15 }),
  lg({ series: 'cTpa', text: 'Ru-bpy-TPA' }, 519.5, 116.7, 46, 11, 'circle', { color: K }, { fontSize: 19, lineHeight: 20 }),
  lg({ series: 'cMe', text: 'Ru-bpy-ME' }, 519.5, 141.7, 46, 11, 'circle', { color: '#fff', borderColor: K, borderWidth: 1.6 }, { fontSize: 19, lineHeight: 20 }),
  lg({ series: 'dTpa', text: 'Ru-bpy-TPA' }, 674.2, 277.5, 25, 5, 'circle', { color: K }, { fontSize: 16, lineHeight: 15 }),
  lg({ series: 'dFitTpa', text: 'Fit-TPA' }, 658, 292.5, 23, 3, 'path://M0 0H23V3H0Z', { color: K }, { fontSize: 16, lineHeight: 15 }),
  lg({ series: 'dMe', text: 'Ru-bpy-Me' }, 674.2, 308.5, 25, 5, 'circle', { color: '#fff', borderColor: '#777', borderWidth: 1 }, { fontSize: 16, lineHeight: 15 }),
  lg({ series: 'dFitMe', text: 'Fit-Me' }, 660, 323.5, 24, 3, 'path://M0 0H10V3H0Z M14 0H24V3H14Z', { color: K }, { fontSize: 16, lineHeight: 15 })
];

const graphic = [
  { type: 'text', left: 7, top: 11, silent: true, style: { text: '(a)', fontFamily: FF, fontSize: 18, fill: K } },
  { type: 'text', left: 7, top: 228, silent: true, style: { text: '(b)', fontFamily: FF, fontSize: 18, fill: K } },
  { type: 'text', left: 404, top: 12, silent: true, style: { text: '(c)', fontFamily: FF, fontSize: 18, fill: K } },
  { type: 'text', left: 404, top: 252, silent: true, style: { text: '(d)', fontFamily: FF, fontSize: 18, fill: K } },
  { type: 'text', left: 109, top: 287, silent: true, style: { text: 'τ = (Y/X)/ω', fontFamily: FF, fontSize: 15, fill: K } }
];

const chart = echarts.init(document.getElementById('c'), null, { renderer: 'canvas' });
chart.setOption({
  animation: false,
  backgroundColor: '#fff',
  textStyle: { fontFamily: FF, color: K },
  grid: [grid(boxA), grid(boxB), grid(boxC), grid(boxD)],
  xAxis, yAxis, series, legend, graphic
});
</script></body></html>
